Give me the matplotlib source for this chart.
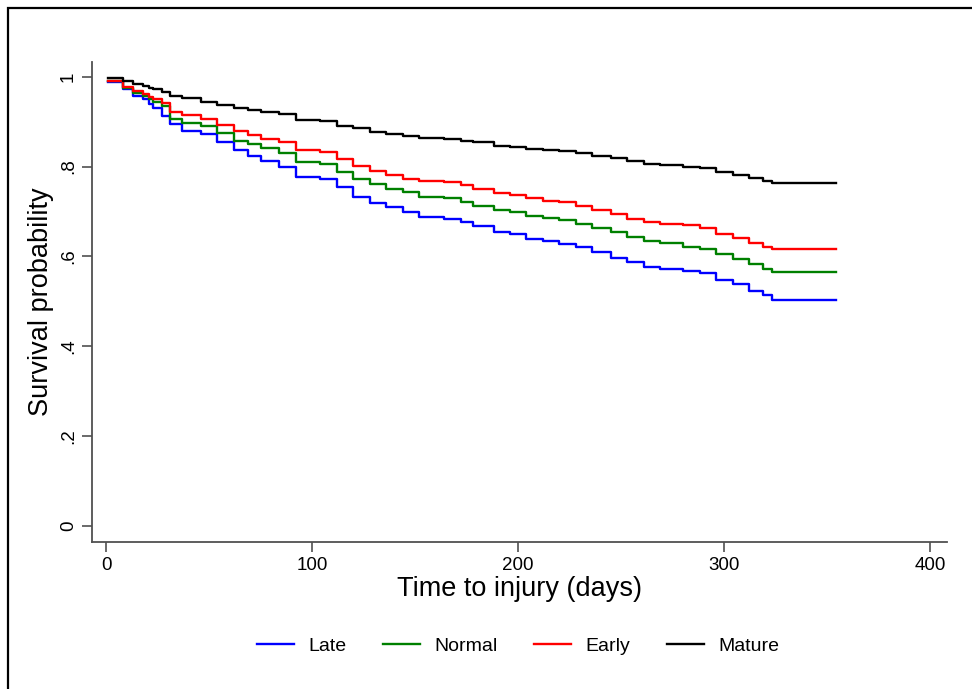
import matplotlib
matplotlib.use("Agg")
import matplotlib.pyplot as plt
from matplotlib.patches import Rectangle

plt.rcParams['font.family'] = ['Liberation Sans', 'DejaVu Sans']

# Kaplan-Meier style survival estimates
times = [1, 8, 13, 18, 21, 23, 27, 31, 37, 46, 54, 62, 69, 75, 84, 92, 104, 112,
         120, 128, 136, 144, 152, 164, 172, 178, 188, 196, 204, 212, 220, 228,
         236, 245, 253, 261, 269, 280, 288, 296, 304, 312, 319, 323, 354]
mature = [0.997, 0.990, 0.985, 0.980, 0.976, 0.972, 0.966, 0.958, 0.952, 0.943,
          0.937, 0.931, 0.926, 0.921, 0.917, 0.904, 0.901, 0.891, 0.886, 0.878,
          0.873, 0.869, 0.864, 0.861, 0.858, 0.854, 0.847, 0.844, 0.839, 0.837,
          0.834, 0.830, 0.824, 0.819, 0.812, 0.806, 0.804, 0.800, 0.797, 0.788,
          0.781, 0.775, 0.769, 0.764, 0.764]
early = [0.991, 0.978, 0.968, 0.962, 0.954, 0.950, 0.942, 0.921, 0.914, 0.906,
         0.893, 0.880, 0.870, 0.862, 0.854, 0.836, 0.832, 0.817, 0.802, 0.791,
         0.782, 0.773, 0.767, 0.765, 0.758, 0.750, 0.741, 0.736, 0.730, 0.724,
         0.721, 0.713, 0.704, 0.695, 0.684, 0.676, 0.672, 0.669, 0.664, 0.650,
         0.642, 0.630, 0.622, 0.616, 0.616]
normal = [0.991, 0.975, 0.965, 0.958, 0.950, 0.943, 0.935, 0.906, 0.898, 0.891,
          0.875, 0.858, 0.850, 0.842, 0.831, 0.810, 0.806, 0.787, 0.773, 0.762,
          0.751, 0.743, 0.733, 0.729, 0.722, 0.713, 0.704, 0.699, 0.691, 0.686,
          0.682, 0.673, 0.664, 0.654, 0.644, 0.634, 0.629, 0.622, 0.617, 0.606,
          0.595, 0.584, 0.573, 0.565, 0.565]
late = [0.989, 0.972, 0.958, 0.950, 0.940, 0.930, 0.912, 0.895, 0.880, 0.873,
        0.855, 0.836, 0.824, 0.813, 0.800, 0.776, 0.773, 0.754, 0.732, 0.718,
        0.709, 0.699, 0.687, 0.684, 0.676, 0.667, 0.654, 0.649, 0.639, 0.634,
        0.627, 0.621, 0.610, 0.597, 0.587, 0.576, 0.573, 0.567, 0.562, 0.547,
        0.538, 0.524, 0.513, 0.504, 0.504]

series_names = ["Late", "Normal", "Early", "Mature"]
series_vals = [late, normal, early, mature]
series_cols = ["#0000ff", "#008000", "#ff0000", "#000000"]

xticks = [0, 100, 200, 300, 400]
yticks = [0, 0.2, 0.4, 0.6, 0.8, 1.0]
ytick_labels = ["0", ".2", ".4", ".6", ".8", "1"]

fig = plt.figure(figsize=(9.72, 6.89), dpi=100)
ax = fig.add_axes([0.0947, 0.2134, 0.8795, 0.6966])

for name, vals, col in zip(series_names, series_vals, series_cols):
    ax.plot(times, vals, drawstyle='steps-post', color=col, lw=1.7, label=name)

ax.set_xlim(-6.8, 408)
ax.set_ylim(-0.036, 1.033)
ax.set_xticks(xticks)
ax.set_xticklabels([str(x) for x in xticks])
ax.set_yticks(yticks)
ax.set_yticklabels(ytick_labels, rotation=90, va='center')

spine_col = "#505050"
for s in ['top', 'right']:
    ax.spines[s].set_visible(False)
for s in ['left', 'bottom']:
    ax.spines[s].set_color(spine_col)
    ax.spines[s].set_linewidth(1.3)
ax.tick_params(axis='both', colors=spine_col, labelcolor='black', length=7,
               width=1.2, labelsize=13.5, pad=4)

ax.set_xlabel("Time to injury (days)", fontsize=19.5, labelpad=1)
ax.set_ylabel("Survival probability", fontsize=19.5, labelpad=4)

fig.legend(loc='center', bbox_to_anchor=(0.533, 0.062), ncol=4, frameon=False,
           fontsize=14, handlelength=1.9, columnspacing=1.9, handletextpad=0.72)

# outer frame
fig.patches.append(Rectangle((8 / 972, -0.1), 1.2, 1 - 8 / 689 + 0.1,
                             transform=fig.transFigure, fill=False,
                             edgecolor='black', lw=1.6))

fig.savefig("out.png", dpi=100)
